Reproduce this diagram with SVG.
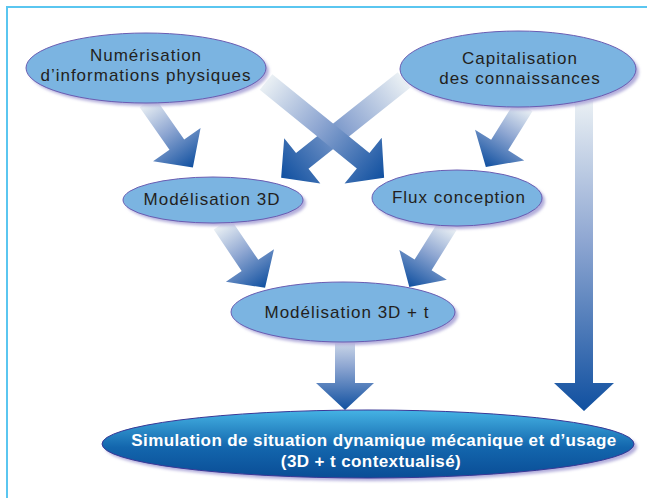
<svg xmlns="http://www.w3.org/2000/svg" width="647" height="498" viewBox="0 0 647 498">
<defs>
<linearGradient id="ag" x1="0" y1="0" x2="1" y2="0">
<stop offset="0" stop-color="#eaf0f4"/>
<stop offset="0.45" stop-color="#8fa7d2"/>
<stop offset="1" stop-color="#1050a0"/>
</linearGradient>
<linearGradient id="sg" x1="0" y1="0" x2="0" y2="1">
<stop offset="0" stop-color="#45b3e4"/>
<stop offset="0.55" stop-color="#1366ad"/>
<stop offset="1" stop-color="#0a4d96"/>
</linearGradient>
<filter id="blur" x="-10%" y="-20%" width="120%" height="140%">
<feGaussianBlur stdDeviation="1.5"/>
</filter>
</defs>
<style>
.frame{stroke:#5ac6f0;stroke-width:2;fill:none}
.arrow{fill:url(#ag)}
.node{fill:#7bb4e1;stroke:#6a5db2;stroke-width:1}
.shadow{fill:#b3aedb;filter:url(#blur)}
.lbl{font-family:"Liberation Sans",Arial,sans-serif;font-size:17px;letter-spacing:1px;fill:#231f20;text-anchor:middle}
.big{fill:url(#sg);stroke:#3a3896;stroke-width:1}
.lblw{font-family:"Liberation Sans",Arial,sans-serif;font-size:17px;font-weight:bold;letter-spacing:0.4px;fill:#ffffff;text-anchor:middle}
</style>
<rect width="647" height="498" fill="#ffffff"/>
<path class="frame" d="M7,498 V7 H647"/>
<g id="connectors">
<polygon class="arrow" transform="translate(147,102) rotate(55)" points="0,-9 52,-9 52,-29 80,0 52,29 52,9 0,9"/>
<polygon class="arrow" transform="translate(404,80) rotate(141.5)" points="0,-10 130,-10 130,-29 157,0 130,29 130,10 0,10"/>
<polygon class="arrow" transform="translate(266,82) rotate(39)" points="0,-10 125,-10 125,-29.5 152,0 125,29.5 125,10 0,10"/>
<polygon class="arrow" transform="translate(524,106) rotate(122)" points="0,-10 46,-10 46,-29 72,0 46,29 46,10 0,10"/>
<polygon class="arrow" transform="translate(222,224) rotate(56)" points="0,-10 50,-10 50,-29 77,0 50,29 50,10 0,10"/>
<polygon class="arrow" transform="translate(448,225) rotate(122)" points="0,-10 47,-10 47,-28 73,0 47,28 47,10 0,10"/>
<polygon class="arrow" transform="translate(345,330) rotate(90)" points="0,-10 53,-10 53,-29 80,0 53,29 53,10 0,10"/>
<polygon class="arrow" transform="translate(584,100) rotate(90)" points="0,-9 283,-9 283,-30 311,0 283,30 283,9 0,9"/>
</g>
<g id="numerisation">
<ellipse class="shadow" cx="149" cy="71" rx="120" ry="35"/>
<ellipse class="node" cx="146" cy="68" rx="120" ry="35"/>
<text class="lbl" x="146" y="61">Numérisation</text>
<text class="lbl" x="146" y="81">d’informations physiques</text>
</g>
<g id="capitalisation">
<ellipse class="shadow" cx="521" cy="72" rx="118" ry="38"/>
<ellipse class="node" cx="518" cy="69" rx="118" ry="38"/>
<text class="lbl" x="520" y="64">Capitalisation</text>
<text class="lbl" x="520" y="84">des connaissances</text>
</g>
<g id="modelisation3d">
<ellipse class="shadow" cx="216" cy="203" rx="90" ry="23"/>
<ellipse class="node" cx="213" cy="200" rx="90" ry="23"/>
<text class="lbl" x="212" y="205">Modélisation 3D</text>
</g>
<g id="flux">
<ellipse class="shadow" cx="460" cy="201" rx="85" ry="28"/>
<ellipse class="node" cx="457" cy="198" rx="85" ry="28"/>
<text class="lbl" x="459" y="203">Flux conception</text>
</g>
<g id="modelisation3dt">
<ellipse class="shadow" cx="346" cy="315" rx="112" ry="30"/>
<ellipse class="node" cx="343" cy="312" rx="112" ry="30"/>
<text class="lbl" x="347" y="318">Modélisation 3D + t</text>
</g>
<g id="simulation">
<ellipse class="shadow" cx="371" cy="447" rx="266" ry="34"/>
<ellipse class="big" cx="368" cy="444" rx="266" ry="34"/>
<text class="lblw" x="374" y="446">Simulation de situation dynamique mécanique et d’usage</text>
<text class="lblw" x="371" y="467">(3D + t contextualisé)</text>
</g>
</svg>
